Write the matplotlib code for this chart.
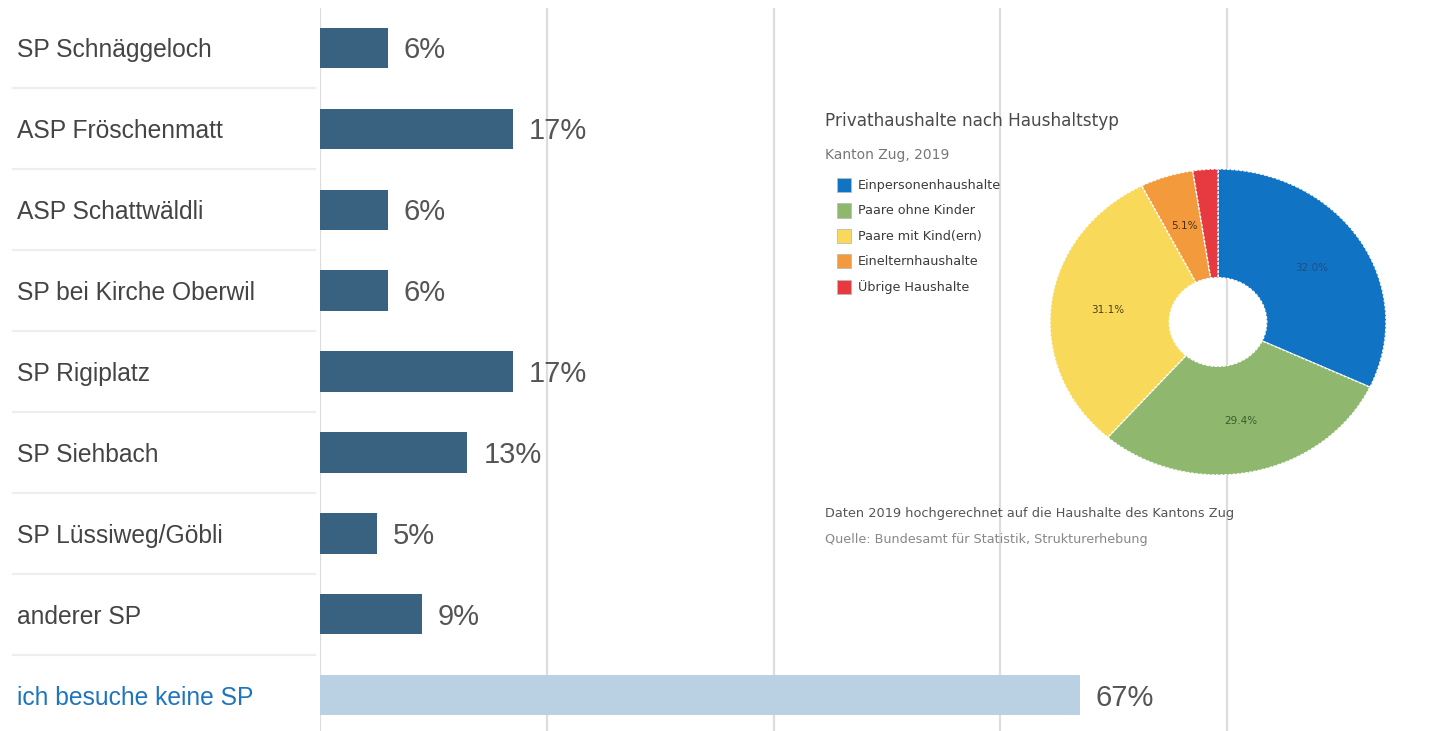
import numpy as np
import matplotlib
matplotlib.use("Agg")
import matplotlib.pyplot as plt
from matplotlib.patches import Rectangle
from matplotlib.lines import Line2D

# Sportplatz usage survey
categories = ["SP Schnäggeloch", "ASP Fröschenmatt", "ASP Schattwäldli",
              "SP bei Kirche Oberwil", "SP Rigiplatz", "SP Siehbach",
              "SP Lüssiweg/Göbli", "anderer SP", "ich besuche keine SP"]
shares = [6, 17, 6, 6, 17, 13, 5, 9, 67]

# household types, canton Zug 2019
hh_types = ["Einpersonenhaushalte", "Paare ohne Kinder", "Paare mit Kind(ern)",
            "Einelternhaushalte", "Übrige Haushalte"]
hh_shares = [32.0, 29.4, 31.1, 5.1, 2.4]
hh_colors = ["#1173c4", "#8fb86e", "#f8d95a", "#f39b3c", "#e63a40"]
hh_textcol = ["#1d4f85", "#3d5a2c", "#4a4020", "#4a3010", "#4a1010"]

W, H = 1453, 731
fig = plt.figure(figsize=(W / 100, H / 100), dpi=100)


def fx(px):
    return px / W


def fy(py):
    return 1 - py / H


bar_dark = "#38627f"
bar_light = "#bad0e3"
label_col = "#444444"
hi_col = "#1f74bf"

ax = fig.add_axes([fx(320), fy(731), fx(1134), (731 - 8) / H])
y = np.arange(len(categories))
colors = [bar_dark] * (len(categories) - 1) + [bar_light]
ax.barh(y, shares, height=0.5, color=colors, zorder=2)
ax.set_xlim(0, 100)
ax.set_ylim(8.443, -0.494)
for xv in range(0, 100, 20):
    ax.axvline(xv, color="#dddddd", lw=1.6, zorder=1)
for s in ax.spines.values():
    s.set_visible(False)
ax.set_xticks([])
ax.set_yticks([])

for yi, v in zip(y, shares):
    ax.text(v + 1.4, yi + 0.03, f"{v}%", va="center", ha="left", fontsize=21,
            color="#555555", family="Liberation Sans", zorder=3)

# category labels and row separators on the left
trans = matplotlib.transforms.blended_transform_factory(fig.transFigure, ax.transData)
for yi, name in zip(y, categories):
    c = hi_col if yi == len(categories) - 1 else label_col
    ax.text(fx(17), yi + 0.03, name, transform=trans, va="center", ha="left",
            fontsize=17.7, color=c, family="Liberation Sans", clip_on=False)
for yi in y[:-1]:
    fig.add_artist(Line2D([fx(13), fx(315)], [yi + 0.5, yi + 0.5], transform=trans,
                          color="#eeeeee", lw=1.6))

# embedded household donut
axp = fig.add_axes([fx(1050), fy(475), fx(336), (475 - 169) / H])
axp.patch.set_alpha(0)
wedges, texts, autotexts = axp.pie(
    hh_shares, colors=hh_colors, startangle=90, counterclock=False, radius=1,
    autopct=lambda p: f"{p:.1f}%" if p > 4 else "", pctdistance=0.66,
    wedgeprops=dict(width=0.71, edgecolor="white", linewidth=1.0, linestyle=(0, (2, 1))),
    textprops=dict(fontsize=7.5, family="DejaVu Sans"))
for t, c in zip(autotexts, hh_textcol):
    t.set_color(c)
axp.set_aspect("auto")
axp.set_xlim(-1, 1)
axp.set_ylim(-1, 1)

fig.text(fx(825), fy(121), "Privathaushalte nach Haushaltstyp", va="center", ha="left",
         fontsize=12.2, color="#4a4a4a", family="DejaVu Sans")
fig.text(fx(825), fy(155), "Kanton Zug, 2019", va="center", ha="left",
         fontsize=10, color="#777777", family="DejaVu Sans")
for i, (name, c) in enumerate(zip(hh_types, hh_colors)):
    yc = 185 + i * 25.5
    fig.add_artist(Rectangle((fx(837), fy(yc + 7)), fx(14), 14 / H, transform=fig.transFigure,
                             facecolor=c, edgecolor="#bbbbbb", lw=0.6))
    fig.text(fx(858), fy(yc), name, va="center", ha="left", fontsize=9.2,
             color="#3a3a3a", family="DejaVu Sans")
fig.text(fx(825), fy(513), "Daten 2019 hochgerechnet auf die Haushalte des Kantons Zug",
         va="center", ha="left", fontsize=9.3, color="#555555", family="DejaVu Sans")
fig.text(fx(825), fy(540), "Quelle: Bundesamt für Statistik, Strukturerhebung",
         va="center", ha="left", fontsize=9.2, color="#888888", family="DejaVu Sans")

fig.savefig("out.png", dpi=100)
